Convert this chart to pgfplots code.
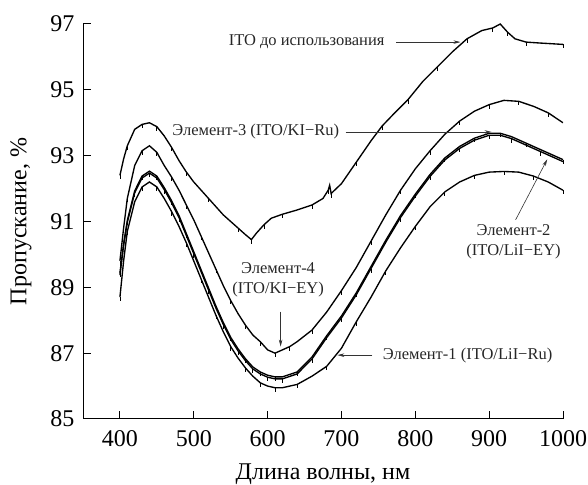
\documentclass[border=0pt]{standalone}
\usepackage{fontspec}
\setmainfont{Liberation Serif}
\usepackage{pgfplots}
\pgfplotsset{compat=1.18}
\usetikzlibrary{arrows.meta}
\pgfdeclareplotmark{vtick}{\pgfpathmoveto{\pgfpoint{0pt}{0pt}}\pgfpathlineto{\pgfpoint{0pt}{-4pt}}\pgfusepathqstroke}
\begin{document}
\begin{tikzpicture}
\path[use as bounding box] (0,0) rectangle (588pt,484pt);
\begin{axis}[
  at={(83pt,65pt)}, anchor=south west,
  width=480pt, height=395pt, scale only axis,
  xmin=350, xmax=1000, ymin=85, ymax=97,
  axis lines*=left,
  axis line style={line width=1pt},
  xtick={400,500,...,1000}, ytick={85,87,...,97},
  tick align=inside, major tick length=8pt,
  tick style={line width=1pt, black},
  /pgf/number format/assume math mode=true,
  /pgf/number format/1000 sep={},
  ticklabel style={font=\fontsize{24}{28}\selectfont},
  xticklabel style={yshift=-8pt},
  yticklabel style={xshift=-5pt},
  xlabel={Длина волны, нм},
  ylabel={Пропускание, \%},
  label style={font=\fontsize{24}{28}\selectfont},
  xlabel style={at={(axis description cs:0.5,-0.152)}, anchor=base},
  ylabel style={at={(axis description cs:-0.129,0.5)}, anchor=center},
  crv/.style={black, solid, line width=1.35pt, mark=vtick, mark repeat=2, mark options={solid, line width=0.8pt, black}},
]
% ITO before use
\addplot[crv] coordinates {(400,92.4) (405,92.9) (410,93.3) (420,93.8) (430,93.95) (440,94.0) (450,93.88) (460,93.6) (470,93.25) (480,92.85) (490,92.5) (500,92.2) (520,91.7) (540,91.2) (560,90.8) (570,90.6) (578,90.45) (585,90.65) (595,90.9) (605,91.1) (620,91.22) (640,91.35) (660,91.5) (675,91.7) (682,91.95) (684,92.1) (686,91.85) (700,92.15) (720,92.8) (740,93.45) (755,93.9) (770,94.25) (790,94.7) (810,95.25) (830,95.7) (850,96.15) (870,96.55) (890,96.8) (905,96.88) (915,97.0) (925,96.75) (935,96.55) (950,96.45) (970,96.42) (1000,96.38)};
% Element-4
\addplot[crv] coordinates {(400,89.8) (405,90.8) (410,91.7) (420,92.7) (430,93.15) (440,93.3) (450,93.1) (460,92.7) (470,92.35) (480,91.95) (490,91.5) (500,91.05) (510,90.55) (520,90.05) (530,89.55) (540,89.05) (550,88.6) (560,88.2) (570,87.85) (580,87.55) (590,87.35) (600,87.1) (610,87.0) (620,87.1) (630,87.2) (640,87.35) (660,87.7) (680,88.25) (700,88.9) (720,89.6) (740,90.4) (760,91.2) (780,91.95) (800,92.6) (820,93.15) (840,93.65) (860,94.05) (880,94.35) (900,94.55) (920,94.68) (940,94.65) (960,94.5) (980,94.3) (1000,94.0)};
% Element-3
\addplot[crv] coordinates {(400,89.43) (405,90.33) (410,91.03) (420,91.93) (430,92.38) (440,92.53) (450,92.38) (460,92.03) (470,91.63) (480,91.18) (490,90.63) (500,90.08) (510,89.53) (520,88.98) (530,88.43) (540,87.93) (550,87.48) (560,87.13) (570,86.83) (580,86.58) (590,86.43) (600,86.33) (610,86.28) (620,86.28) (640,86.43) (660,86.88) (680,87.53) (700,88.13) (720,88.83) (740,89.63) (760,90.43) (780,91.18) (800,91.83) (820,92.43) (840,92.93) (860,93.28) (880,93.53) (900,93.68) (915,93.68) (930,93.58) (950,93.38) (970,93.18) (1000,92.88)};
% Element-2
\addplot[crv, mark phase=2] coordinates {(400,89.37) (405,90.27) (410,90.97) (420,91.87) (430,92.32) (440,92.47) (450,92.32) (460,91.97) (470,91.57) (480,91.12) (490,90.57) (500,90.02) (510,89.47) (520,88.92) (530,88.37) (540,87.87) (550,87.42) (560,87.07) (570,86.77) (580,86.52) (590,86.37) (600,86.27) (610,86.22) (620,86.22) (640,86.37) (660,86.82) (680,87.47) (700,88.07) (720,88.77) (740,89.57) (760,90.37) (780,91.12) (800,91.77) (820,92.37) (840,92.87) (860,93.22) (880,93.47) (900,93.62) (915,93.62) (930,93.52) (950,93.32) (970,93.12) (1000,92.82)};
% Element-1
\addplot[crv] coordinates {(400,88.7) (405,89.8) (410,90.7) (420,91.6) (430,92.05) (440,92.2) (450,92.05) (460,91.7) (470,91.3) (480,90.85) (490,90.35) (500,89.8) (510,89.25) (520,88.7) (530,88.15) (540,87.65) (550,87.2) (560,86.85) (570,86.55) (580,86.3) (590,86.1) (600,86.0) (610,85.95) (620,85.95) (640,86.05) (660,86.3) (680,86.6) (700,87.15) (720,87.95) (740,88.7) (760,89.5) (780,90.2) (800,90.85) (820,91.45) (840,91.9) (860,92.2) (880,92.4) (900,92.5) (920,92.52) (940,92.5) (960,92.38) (980,92.2) (1000,91.95)};

% annotations
\tikzset{ann/.style={font=\fontsize{16.5}{20}\selectfont, align=center, text=black!85}, arr/.style={-{Stealth[length=7pt,width=3.5pt]}, line width=0.6pt, black!80}}
\node[ann] at (axis cs:652.8,96.45) {ITO до использования};
\draw[arr] (axis cs:774.5,96.45) -- (axis cs:861.2,96.45);
\node[ann] at (axis cs:584,93.72) {Элемент-3 (ITO/KI−Ru)};
\draw[arr] (axis cs:705.6,93.72) -- (axis cs:903.3,93.72);
\node[ann] at (axis cs:614.2,89.22) {Элемент-4\\(ITO/KI−EY)};
\draw[arr] (axis cs:617.6,88.26) -- (axis cs:617.6,87.2);
\node[ann] at (axis cs:933.1,90.37) {Элемент-2\\(ITO/LiI−EY)};
\draw[arr] (axis cs:935.8,91.05) -- (axis cs:978.7,92.89);
\node[ann] at (axis cs:870.8,86.94) {Элемент-1 (ITO/LiI−Ru)};
\draw[arr] (axis cs:741.8,86.94) -- (axis cs:694.4,86.94);
\end{axis}
\end{tikzpicture}
\end{document}
